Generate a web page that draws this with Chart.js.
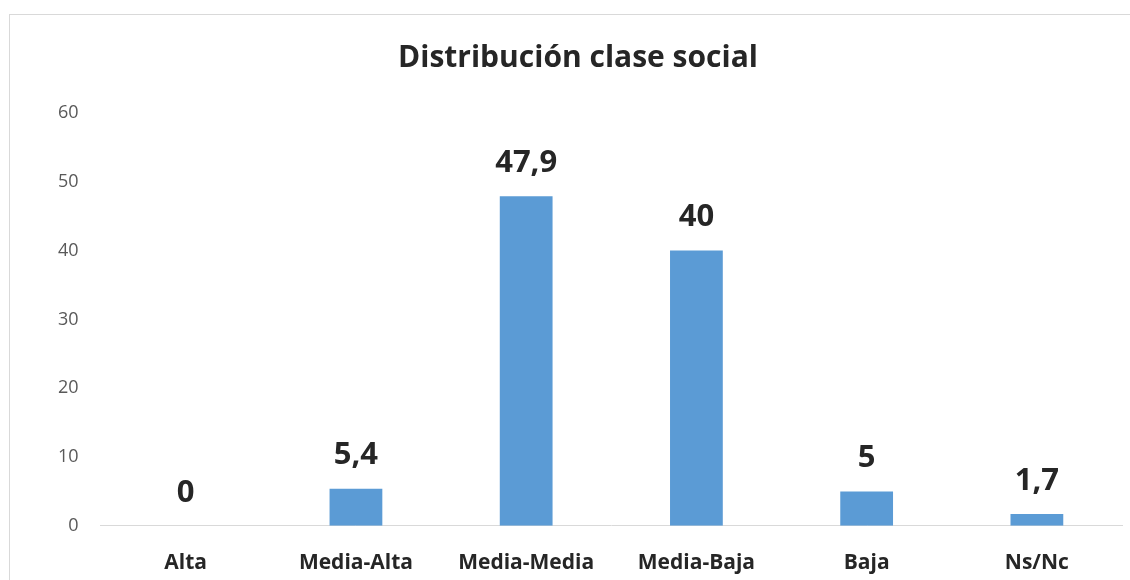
<!DOCTYPE html>
<html lang="es">
<head>
    <meta charset="UTF-8">
    <title>Distribución clase social</title>
    <script src="https://cdn.jsdelivr.net/npm/chart.js"></script>
    <style>
        body {
            margin: 0;
            background-color: white;
            font-family: 'Open Sans', sans-serif;
        }
        .frame {
            position: absolute;
            left: 9px;
            top: 14px;
            width: 1200px;
            height: 700px;
            border: 1px solid #d9d9d9;
        }
        #chartContainer {
            position: absolute;
            left: 0;
            top: 0;
            width: 1130px;
            height: 580px;
        }
    </style>
</head>
<body>
    <div class="frame"></div>
    <div id="chartContainer">
        <canvas id="classChart"></canvas>
    </div>
    <script>
        const chartTitle = 'Distribución clase social';
        const categories = ['Alta', 'Media-Alta', 'Media-Media', 'Media-Baja', 'Baja', 'Ns/Nc'];
        const values = [0, 5.4, 47.9, 40, 5, 1.7];
        const yTicks = [0, 10, 20, 30, 40, 50, 60];

        const barColor = '#5b9bd5';
        const textColor = '#262626';
        const fontFamily = '"Open Sans", sans-serif';

        // title drawn by hand so it sits where the original one is
        const titlePlugin = {
            id: 'titlePlugin',
            afterDraw(chart) {
                const ctx = chart.ctx;
                ctx.save();
                ctx.font = 'bold 30px ' + fontFamily;
                ctx.fillStyle = textColor;
                ctx.textAlign = 'center';
                ctx.textBaseline = 'middle';
                ctx.fillText(chartTitle, 578, 58);
                ctx.restore();
            }
        };

        // value labels above the bars, comma as decimal separator
        const valueLabels = {
            id: 'valueLabels',
            afterDatasetsDraw(chart) {
                const ctx = chart.ctx;
                const meta = chart.getDatasetMeta(0);
                ctx.save();
                ctx.font = 'bold 31px ' + fontFamily;
                ctx.fillStyle = textColor;
                ctx.textAlign = 'center';
                ctx.textBaseline = 'middle';
                meta.data.forEach((bar, i) => {
                    ctx.fillText(String(values[i]).replace('.', ','), bar.x, bar.y - 33);
                });
                ctx.restore();
            }
        };

        const ctx = document.getElementById('classChart').getContext('2d');
        new Chart(ctx, {
            type: 'bar',
            data: {
                labels: categories,
                datasets: [{
                    label: chartTitle,
                    data: values,
                    backgroundColor: barColor,
                    barPercentage: 0.31,
                    categoryPercentage: 1
                }]
            },
            options: {
                responsive: true,
                maintainAspectRatio: false,
                animation: false,
                layout: {
                    padding: { left: 44, right: 8, top: 113, bottom: -13 }
                },
                scales: {
                    y: {
                        min: 0,
                        max: 60,
                        afterBuildTicks: axis => {
                            axis.ticks = yTicks.map(v => ({ value: v }));
                        },
                        grid: { display: false },
                        border: { display: false },
                        ticks: {
                            color: '#595959',
                            font: { size: 18, family: fontFamily },
                            padding: 14
                        }
                    },
                    x: {
                        grid: { display: false },
                        border: { display: true, color: '#d9d9d9', width: 1 },
                        ticks: {
                            color: textColor,
                            font: { size: 21, weight: 'bold', family: fontFamily },
                            padding: 17
                        }
                    }
                },
                plugins: {
                    legend: { display: false },
                    tooltip: { enabled: false },
                    title: { display: false }
                }
            },
            plugins: [valueLabels, titlePlugin]
        });
    </script>
</body>
</html>
